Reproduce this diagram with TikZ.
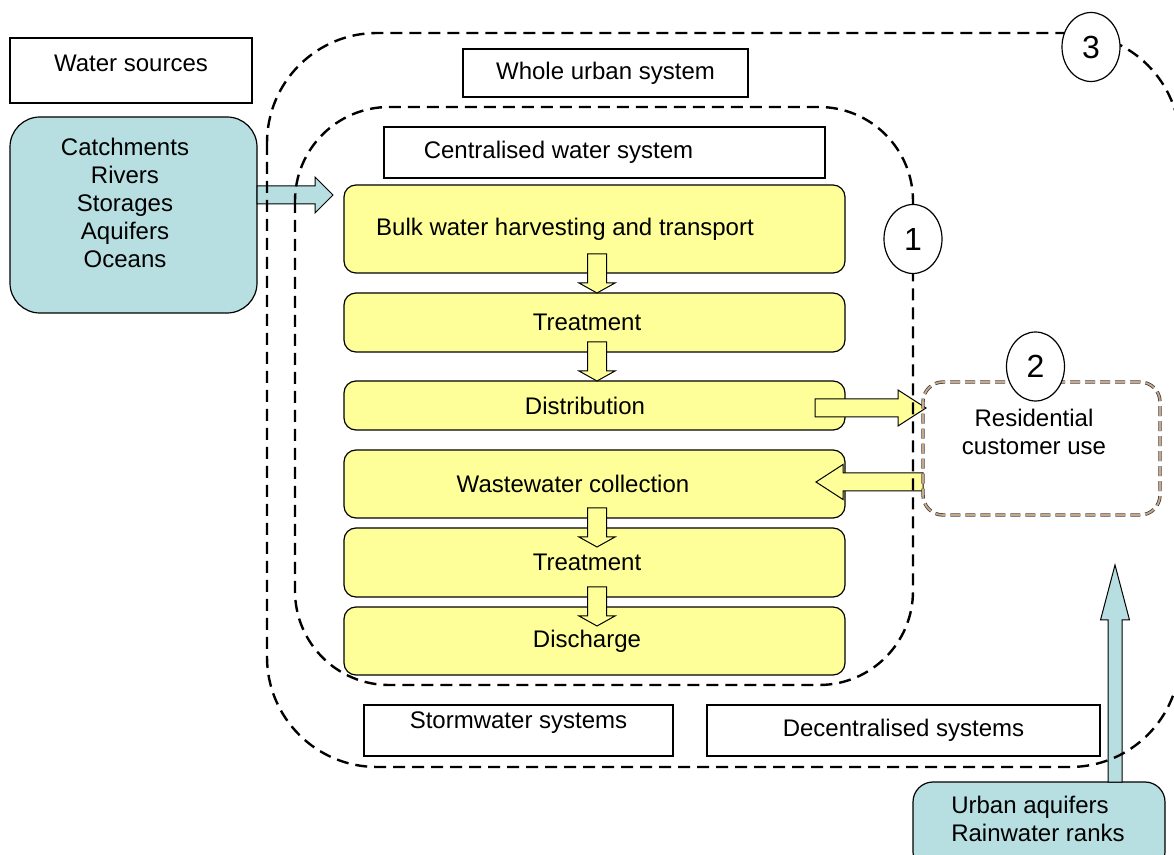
\documentclass[tikz,border=0pt]{standalone}
\usepackage{fontspec}
\setmainfont{Liberation Sans}
\usetikzlibrary{shapes.geometric,calc}

\definecolor{waterblue}{HTML}{B7DEE0}
\definecolor{stageyellow}{HTML}{FFFF99}
\definecolor{usetan}{HTML}{C8A888}

% fat arrow: [style]{tail}{tip}{shaft half}{head half}{head length}
\newcommand{\blockarrow}[6][]{%
  \coordinate (ba-h) at ($(#3)!#6!(#2)$);
  \draw[#1] ($(#2)!#4!90:(#3)$) -- ($(ba-h)!#4!90:(#3)$) -- ($(ba-h)!#5!90:(#3)$) -- (#3)
    -- ($(ba-h)!#5!-90:(#3)$) -- ($(ba-h)!#4!-90:(#3)$) -- ($(#2)!#4!-90:(#3)$) -- cycle;
}

\begin{document}
\begin{tikzpicture}[x=0.5pt,y=-0.5pt,
    font=\fontsize{12}{14}\selectfont,
    tagbox/.style={draw,line width=0.7pt,fill=white,inner sep=0pt},
    stage/.style={draw,line width=0.6pt,fill=stageyellow,rounded corners=6pt,minimum width=250.5pt,inner sep=0pt},
    source/.style={draw,line width=0.6pt,fill=waterblue,rounded corners=15pt,inner sep=0pt},
    region/.style={line width=1.2pt,dash pattern=on 6pt off 3.5pt},
    usebox/.style={draw=black!75,double=usetan,double distance=0.9pt,line width=0.4pt,dash pattern=on 5pt off 2.5pt,rounded corners=10pt,inner sep=0pt},
    numtag/.style={ellipse,draw,line width=0.6pt,fill=white,minimum width=29pt,minimum height=34.5pt,inner sep=0pt,font=\fontsize{16}{18}\selectfont},
    yarrow/.style={draw,line width=0.5pt,fill=stageyellow},
    barrow/.style={draw,line width=0.5pt,fill=waterblue}]

    \useasboundingbox (0,0) rectangle (1174,855);

    % sources
    \node[tagbox,minimum width=121pt,minimum height=32.5pt,label={[yshift=3.75pt]center:Water sources}] (wsrc) at (131,70.5) {};
    \node[source,minimum width=123.5pt,minimum height=98pt,
          label={[align=center,xshift=-4.25pt,yshift=6pt]center:Catchments\\Rivers\\Storages\\Aquifers\\Oceans}] (catch) at (133.5,215) {};

    % headings
    \node[tagbox,minimum width=142.5pt,minimum height=24pt] (whole) at (605.5,73) {Whole urban system};
    \node[tagbox,minimum width=220.5pt,minimum height=25.5pt,label={[xshift=-23pt]center:Centralised water system}] (central) at (604.5,152.5) {};

    % centralised chain
    \node[stage,minimum height=44pt,label={[xshift=-14.75pt]center:Bulk water harvesting and transport}] (bulk) at (594.5,229) {};
    \node[stage,minimum height=29.5pt,label={[xshift=-3.75pt]center:Treatment}] (treat1) at (594.5,322.5) {};
    \node[stage,minimum height=24.5pt,label={[xshift=-4.75pt]center:Distribution}] (dist) at (594.5,405.5) {};
    \node[stage,minimum height=34pt,label={[xshift=-10.75pt]center:Wastewater collection}] (waste) at (594.5,484) {};
    \node[stage,minimum height=34.5pt,label={[xshift=-3.75pt]center:Treatment}] (treat2) at (594.5,562.5) {};
    \node[stage,minimum height=34pt,label={[xshift=-3.75pt]center:Discharge}] (disch) at (594.5,641) {};

    % other systems
    \node[tagbox,minimum width=154.5pt,minimum height=25.5pt,label={[yshift=3.75pt]center:Stormwater systems}] (storm) at (518.5,730.5) {};
    \node[tagbox,minimum width=196.5pt,minimum height=25.5pt] (decent) at (903.5,730.5) {Decentralised systems};
    \node[source,minimum width=126pt,minimum height=45pt,rounded corners=10pt,
          label={[align=left,xshift=-0.5pt,yshift=4.25pt]center:Urban aquifers\\Rainwater ranks}] (urban) at (1039,827) {};

    % flows
    \coordinate (src-tail) at (257,195);
    \coordinate (src-tip) at (333,195);
    \blockarrow[barrow]{src-tail}{src-tip}{4.5pt}{9pt}{9pt}

    \coordinate (d1) at (597,254);
    \coordinate (d1-tip) at (597,293);
    \coordinate (d2) at (597,342);
    \coordinate (d2-tip) at (597,381);
    \coordinate (d3) at (597,508);
    \coordinate (d3-tip) at (597,547);
    \coordinate (d4) at (597,587);
    \coordinate (d4-tip) at (597,626);
    \foreach \s in {d1,d2,d3,d4} {
        \blockarrow[yarrow]{\s}{\s-tip}{4.75pt}{9pt}{5pt}
    }

    \coordinate (out-tail) at (815,408);
    \coordinate (out-tip) at (926,408);
    \blockarrow[yarrow]{out-tail}{out-tip}{4.5pt}{9pt}{14pt}
    \coordinate (back-tail) at (923,482);
    \coordinate (back-tip) at (816,482);
    \blockarrow[yarrow]{back-tail}{back-tip}{4.5pt}{8.75pt}{13.5pt}

    \coordinate (up-tail) at (1115,782);
    \coordinate (up-tip) at (1115,565);
    \blockarrow[barrow]{up-tail}{up-tip}{3.5pt}{7.25pt}{27.5pt}

    % system boundaries
    \draw[region,rounded corners=55pt] (267,33) rectangle (1180,767);
    \draw[region,rounded corners=47pt] (295,107) rectangle (913,685);

    \node[usebox,minimum width=118.5pt,minimum height=66.5pt,
          label={[align=center,xshift=-3.75pt,yshift=8.25pt]center:Residential\\customer use}] (resid) at (1041.5,448.5) {};

    \node[numtag] (n3) at (1091,47) {3};
    \node[numtag] (n1) at (913,239) {1};
    \node[numtag] (n2) at (1035.5,366.5) {2};

\end{tikzpicture}
\end{document}
